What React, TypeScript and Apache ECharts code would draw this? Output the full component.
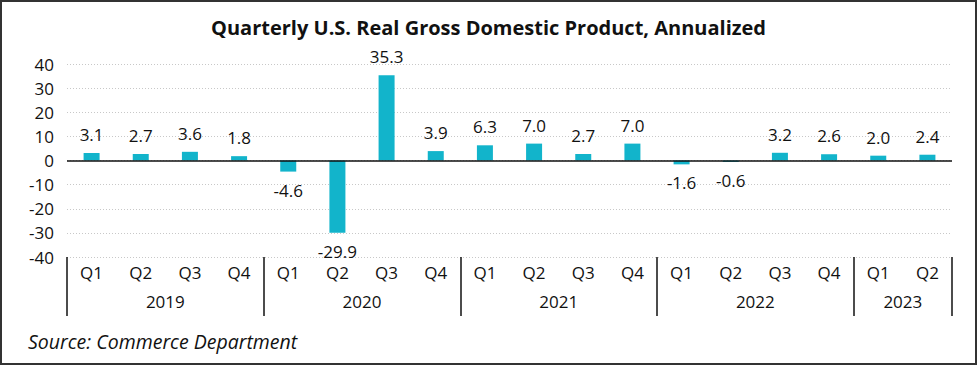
import React, { useEffect, useRef } from "react";
import * as echarts from "echarts";

const quarters = ["Q1","Q2","Q3","Q4","Q1","Q2","Q3","Q4","Q1","Q2","Q3","Q4","Q1","Q2","Q3","Q4","Q1","Q2"];
const gdp = [3.1, 2.7, 3.6, 1.8, -4.6, -29.9, 35.3, 3.9, 6.3, 7.0, 2.7, 7.0, -1.6, -0.6, 3.2, 2.6, 2.0, 2.4];
const years = ["2019", "2020", "2021", "2022", "2023"];
const yearCenters = [2, 6, 10, 14, 17];
const yearBounds = [0, 4, 8, 12, 16, 18];
const yTicks = [-40, -30, -20, -10, 0, 10, 20, 30, 40];

const FONT = "'Open Sans', Lato, sans-serif";

export default function App() {
  const ref = useRef<HTMLDivElement>(null);
  useEffect(() => {
    if (!ref.current) return;
    const chart = echarts.init(ref.current, null, { renderer: "svg" });
    const option: any = {
      animation: false,
      backgroundColor: "#ffffff",
      textStyle: { fontFamily: FONT },
      title: {
        text: "Quarterly U.S. Real Gross Domestic Product, Annualized",
        left: "center",
        top: 12,
        textStyle: { fontFamily: FONT, fontSize: 20, fontWeight: "bold", color: "#111" },
      },
      grid: { left: 67, right: 25, top: 64, bottom: 108, containLabel: false },
      xAxis: [
        {
          type: "category",
          data: quarters,
          position: "bottom",
          axisLine: { show: false },
          axisTick: { show: false },
          axisLabel: { fontFamily: FONT, fontSize: 17, color: "#111", margin: 7, interval: 0 },
        },
        {
          type: "value",
          min: 0,
          max: 18,
          position: "bottom",
          axisLine: { show: false },
          splitLine: { show: false },
          axisTick: {
            show: true,
            customValues: yearBounds,
            length: 59,
            lineStyle: { color: "#111", width: 1.5 },
          },
          axisLabel: {
            customValues: yearCenters,
            fontFamily: FONT,
            fontSize: 17,
            color: "#111",
            margin: 36,
            formatter: (v: number) => {
              const i = yearCenters.indexOf(Math.round(v));
              return i >= 0 ? years[i] : "";
            },
          },
        },
      ],
      yAxis: {
        type: "value",
        min: yTicks[0],
        max: yTicks[yTicks.length - 1],
        interval: 10,
        axisLine: { show: false },
        axisTick: { show: false },
        axisLabel: { fontFamily: FONT, fontSize: 17, color: "#111", margin: 13 },
        splitLine: { show: true, lineStyle: { color: "#c8c8c8", type: [1, 2], width: 1 } },
      },
      series: [
        {
          type: "bar",
          xAxisIndex: 0,
          barWidth: 16,
          itemStyle: { color: "#12B4CB" },
          data: gdp.map((v) => ({
            value: v,
            label: { position: v < 0 ? "bottom" : "top" },
          })),
          label: {
            show: true,
            distance: 10,
            fontFamily: FONT,
            fontSize: 17,
            color: "#111",
            formatter: (p: any) => Number(p.value).toFixed(1),
          },
          markLine: {
            silent: true,
            symbol: "none",
            label: { show: false },
            lineStyle: { color: "#111", width: 1.5, type: "solid" },
            data: [{ yAxis: 0 }],
          },
        },
      ],
      graphic: [
        {
          type: "rect",
          shape: { x: 1, y: 1, width: 975, height: 363 },
          style: { fill: "none", stroke: "#333", lineWidth: 2 },
          silent: true,
        },
        {
          type: "text",
          left: 28,
          top: 331,
          style: {
            text: "Source: Commerce Department",
            fontFamily: FONT,
            fontSize: 19.5,
            fontStyle: "italic",
            fill: "#111",
          },
        },
      ],
    };
    chart.setOption(option);
    return () => chart.dispose();
  }, []);
  return (
    <div
      ref={ref}
      style={{ position: "fixed", left: 0, top: 0, width: 977, height: 365 }}
    />
  );
}
